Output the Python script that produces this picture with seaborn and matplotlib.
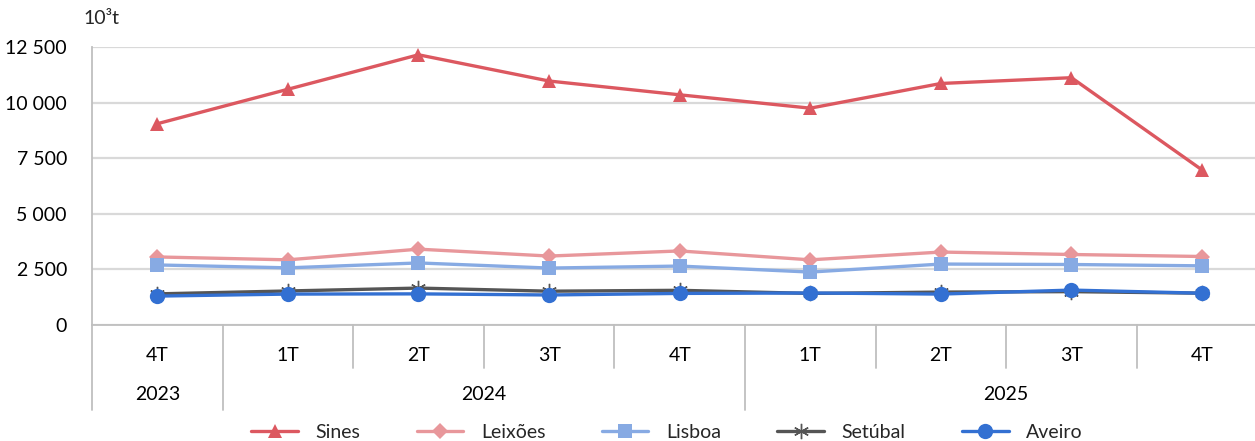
import matplotlib
matplotlib.use("Agg")
import matplotlib.pyplot as plt
import matplotlib.transforms as mtransforms
from matplotlib.ticker import FuncFormatter
import seaborn as sns
import pandas as pd

# Quarterly cargo handled per port (thousand tonnes)
quarters = ["4T", "1T", "2T", "3T", "4T", "1T", "2T", "3T", "4T"]
years = ["2023", "2024", "2024", "2024", "2024", "2025", "2025", "2025", "2025"]
sines = [9050, 10600, 12150, 10970, 10350, 9750, 10860, 11120, 6970]
leixoes = [3060, 2930, 3410, 3100, 3330, 2930, 3280, 3170, 3080]
lisboa = [2700, 2570, 2790, 2560, 2650, 2380, 2740, 2720, 2660]
setubal = [1400, 1530, 1660, 1520, 1560, 1420, 1480, 1500, 1430]
aveiro = [1300, 1390, 1400, 1350, 1420, 1440, 1390, 1570, 1430]

series = {
    "Sines": sines,
    "Leixões": leixoes,
    "Lisboa": lisboa,
    "Setúbal": setubal,
    "Aveiro": aveiro,
}
styles = {
    "Sines": dict(color="#DC5860", marker="^", markersize=10),
    "Leixões": dict(color="#E8979B", marker="D", markersize=8),
    "Lisboa": dict(color="#87AAE3", marker="s", markersize=10),
    "Setúbal": dict(color="#555555", marker=(6, 2, 0), markersize=11, markeredgewidth=1.0),
    "Aveiro": dict(color="#3370D2", marker="o", markersize=11),
}

rows = []
for name, vals in series.items():
    for i, v in enumerate(vals):
        rows.append({"pos": i, "porto": name, "valor": v})
df = pd.DataFrame(rows)

sns.set_theme(style="white")
plt.rcParams["font.family"] = ["Lato", "DejaVu Sans"]
FS = 14

W, H = 1255, 441
fig = plt.figure(figsize=(W / 100, H / 100), dpi=100)
left_px, right_px, top_px, bottom_px = 92, 92 + 9 * 130.6, 47, 325
ax = fig.add_axes([left_px / W, (H - bottom_px) / H,
                   (right_px - left_px) / W, (bottom_px - top_px) / H])

for name in series:
    st = styles[name]
    sub = df[df["porto"] == name]
    sns.lineplot(data=sub, x="pos", y="valor", ax=ax, color=st["color"],
                 marker=st["marker"], markersize=st["markersize"],
                 markeredgewidth=st.get("markeredgewidth", 0),
                 markeredgecolor=st["color"], linewidth=2.4, label=name,
                 legend=False, zorder=3)

ax.set_xlim(-0.5, len(quarters) - 0.5)
ax.set_ylim(0, 12500)
ax.set_yticks([0, 2500, 5000, 7500, 10000, 12500])
ax.yaxis.set_major_formatter(FuncFormatter(lambda v, p: f"{int(v):,}".replace(",", " ")))
ax.grid(axis="y", color="#D9D9D9", linewidth=1.6, zorder=0)
ax.grid(axis="x", visible=False)
ax.tick_params(axis="y", length=0, pad=18, labelsize=FS, labelcolor="#000000")
ax.tick_params(axis="x", length=0, pad=16, labelsize=FS, labelcolor="#000000")
ax.set_xticks(range(len(quarters)))
ax.set_xticklabels(quarters)
ax.set_xlabel("")
ax.set_ylabel("")
for s in ["top", "right"]:
    ax.spines[s].set_visible(False)
for s in ["left", "bottom"]:
    ax.spines[s].set_color("#BFBFBF")
    ax.spines[s].set_linewidth(1.3)

# Two-level category axis: quarter separators and year groups
trans = mtransforms.blended_transform_factory(ax.transData, ax.transAxes)
h_ax = bottom_px - top_px
short_end = -(368 - bottom_px) / h_ax
long_end = -(410 - bottom_px) / h_ax
year_y = -(395 - bottom_px) / h_ax
ax.plot([-0.5, -0.5], [0, long_end], transform=trans, color="#BFBFBF",
        linewidth=1.3, clip_on=False)
for i in range(1, len(quarters)):
    new_year = years[i] != years[i - 1]
    ax.plot([i - 0.5, i - 0.5], [0, long_end if new_year else short_end],
            transform=trans, color="#BFBFBF", linewidth=1.3, clip_on=False)
groups = []
for i, y in enumerate(years):
    if groups and groups[-1][0] == y:
        groups[-1][2] = i
    else:
        groups.append([y, i, i])
for y, a, b in groups:
    ax.text((a + b) / 2, year_y, y, transform=trans, ha="center", va="center",
            fontsize=FS, color="#000000")

fig.text(83 / W, (H - 19) / H, "10³t", fontsize=FS, ha="left", va="center")

handles, labels = ax.get_legend_handles_labels()
fig.legend(handles, labels, loc="center", bbox_to_anchor=(667 / W, 9 / H),
           ncol=5, frameon=False, fontsize=FS, handlelength=2.4,
           columnspacing=2.9, handletextpad=0.9)

fig.savefig("out.png", dpi=100)
